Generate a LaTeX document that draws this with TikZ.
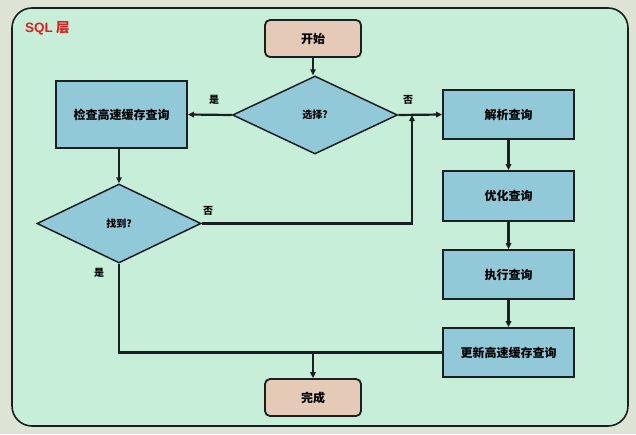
\documentclass[tikz,border=0pt]{standalone}
\usepackage{fontspec}
\setmainfont{Noto Sans CJK SC}
\newfontfamily\lat{Liberation Sans}
\usetikzlibrary{shapes.geometric,arrows.meta}
\definecolor{bgout}{HTML}{DDE4D6}
\definecolor{panel}{HTML}{C6EED8}
\definecolor{boxblue}{HTML}{92C9D9}
\definecolor{pinkbox}{HTML}{E5CBB7}
\definecolor{dark}{HTML}{1A1F1F}
\definecolor{titlered}{HTML}{E02020}
\tikzset{
  every node/.style={font=\bfseries},
  procbox/.style={draw=dark, line width=1.8pt, fill=boxblue, rectangle, minimum width=131pt, inner sep=0pt, font=\bfseries\fontsize{12}{14}\selectfont},
  termbox/.style={draw=dark, line width=1.8pt, fill=pinkbox, rectangle, rounded corners=5pt, minimum width=96pt, minimum height=37pt, inner sep=0pt, font=\bfseries\fontsize{12}{14}\selectfont},
  decision/.style={draw=dark, line width=1.5pt, fill=boxblue, diamond, inner sep=0pt, font=\bfseries\fontsize{10}{12}\selectfont},
  conn/.style={draw=dark, line width=2.2pt, -{Triangle[length=6pt,width=5.5pt]}},
  plain/.style={draw=dark, line width=2.2pt},
  lbl/.style={font=\bfseries\fontsize{10}{12}\selectfont, inner sep=0pt}
}
\begin{document}
\begin{tikzpicture}[x=1pt,y=-1pt]
\useasboundingbox (0,0) rectangle (636,434);
\fill[bgout] (0,0) rectangle (636,434);
\draw[dark, line width=1.6pt, fill=panel, rounded corners=20pt] (12,8) rectangle (628,426);
\node[anchor=west, text=titlered, font=\bfseries\fontsize{13.5}{15}\selectfont, inner sep=0pt] (title) at (25,28) {{\lat SQL} 层};

\node[termbox] (start) at (313,38.5) {开始};
\node[decision, minimum width=165pt, minimum height=78pt] (choose) at (315,115) {选择?};
\node[procbox, minimum height=67pt] (check) at (121.5,114.5) {检查高速缓存查询};
\node[decision, minimum width=164pt, minimum height=79pt] (found) at (119,223.5) {找到?};
\node[procbox, minimum height=49pt] (parse) at (508.5,114.5) {解析查询};
\node[procbox, minimum height=50pt] (opt) at (508.5,196) {优化查询};
\node[procbox, minimum height=49pt] (exec) at (508.5,274.5) {执行查询};
\node[procbox, minimum height=49pt] (update) at (508.5,352.5) {更新高速缓存查询};
\node[termbox] (done) at (313,397.5) {完成};

\coordinate (j1) at (412,115);
\coordinate (m) at (313,352.5);

\draw[conn] (start) -- (start.south |- choose.north);
\draw[conn] (choose.west) -- (check.east);
\draw[conn] (choose.east) -- (parse.west);
\draw[conn] (check.south -| found.north) -- (found.north);
\draw[conn] (found.east) -| (j1);
\draw[plain] (found.south) |- (update.west);
\draw[conn] (m) -- (done.north);
\draw[conn] (parse) -- (opt);
\draw[conn] (opt) -- (exec);
\draw[conn] (exec) -- (update);

\node[lbl] (l1) at (214,100) {是};
\node[lbl] (l2) at (408,100) {否};
\node[lbl] (l3) at (208,211) {否};
\node[lbl] (l4) at (99,272.5) {是};
\end{tikzpicture}
\end{document}
